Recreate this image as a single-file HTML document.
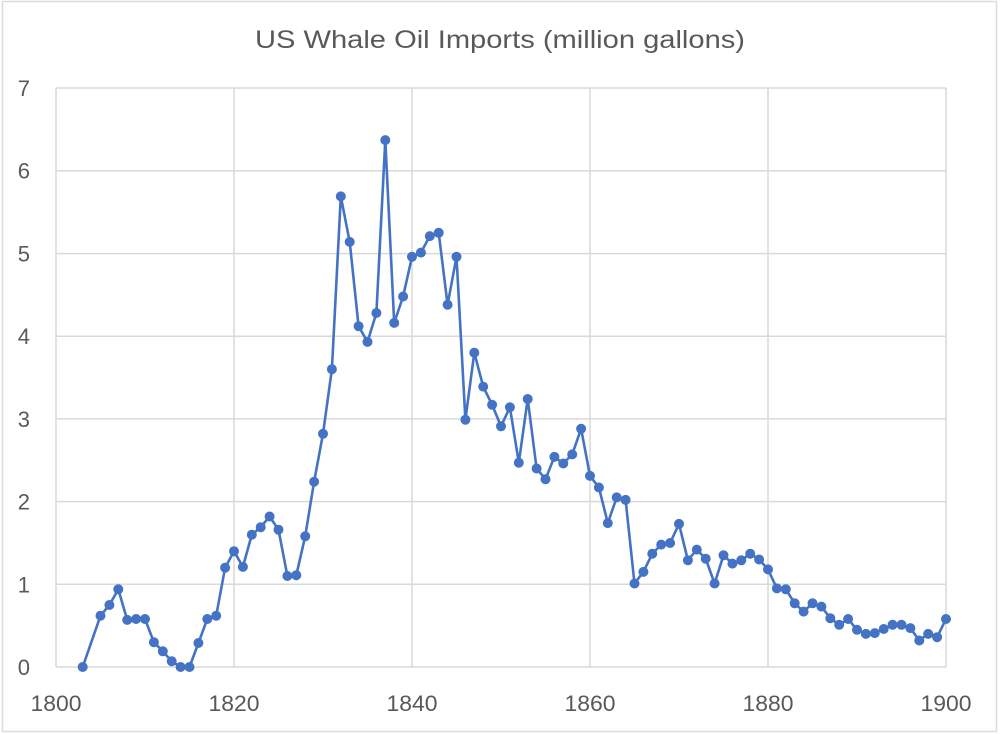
<!DOCTYPE html>
<html><head><meta charset="utf-8"><style>
html,body{margin:0;padding:0;background:#fff;}
svg{display:block;}
text{font-family:"Liberation Sans",Arial,sans-serif;fill:#595959;}
</style></head><body>
<svg width="1000" height="734" viewBox="0 0 1000 734" xmlns="http://www.w3.org/2000/svg">
<rect x="0" y="0" width="1000" height="734" fill="#fff"/>
<rect x="2.5" y="1.5" width="994" height="730" fill="none" stroke="#dcdcdc" stroke-width="1.5"/>
<text x="500" y="48" font-size="25" text-anchor="middle" textLength="490" lengthAdjust="spacingAndGlyphs">US Whale Oil Imports (million gallons)</text>
<g stroke="#d9d9d9" stroke-width="1.5" fill="none">
<path d="M56 667H946M56 584.3H946M56 501.6H946M56 418.9H946M56 336.2H946M56 253.6H946M56 170.7H946M56 88H946"/>
<path d="M56 88V667M234 88V667M412 88V667M590 88V667M768 88V667M946 88V667"/>
</g>
<g font-size="22" text-anchor="end">
<text x="30" y="675">0</text>
<text x="30" y="592.3">1</text>
<text x="30" y="509.6">2</text>
<text x="30" y="426.9">3</text>
<text x="30" y="344.2">4</text>
<text x="30" y="261.6">5</text>
<text x="30" y="178.7">6</text>
<text x="30" y="96">7</text>
</g>
<g font-size="22" text-anchor="middle">
<text x="56" y="711" textLength="51" lengthAdjust="spacingAndGlyphs">1800</text>
<text x="234" y="711" textLength="51" lengthAdjust="spacingAndGlyphs">1820</text>
<text x="412" y="711" textLength="51" lengthAdjust="spacingAndGlyphs">1840</text>
<text x="590" y="711" textLength="51" lengthAdjust="spacingAndGlyphs">1860</text>
<text x="768" y="711" textLength="51" lengthAdjust="spacingAndGlyphs">1880</text>
<text x="946" y="711" textLength="51" lengthAdjust="spacingAndGlyphs">1900</text>
</g>
<polyline fill="none" stroke="#4472C4" stroke-width="2.6" stroke-linejoin="round" points="82.7,667 100.5,615.7 109.4,605 118.3,589.3 127.2,619.9 136.1,619 145,619 153.9,642.2 162.8,651.3 171.7,661.2 180.6,667 189.5,667 198.4,643 207.3,619 216.2,615.7 225.1,567.7 234,551.2 242.9,566.9 251.8,534.7 260.7,527.2 269.6,516.5 278.5,529.7 287.4,576 296.3,575.2 305.2,536.3 314.1,481.7 323,433.8 331.9,369.2 340.8,196.4 349.7,241.9 358.6,326.2 367.5,341.9 376.4,313 385.3,140.1 394.2,322.9 403.1,296.5 412,256.8 420.9,252.6 429.8,236.1 438.7,232.8 447.6,304.7 456.5,256.8 465.4,419.7 474.3,352.7 483.2,386.6 492.1,404.8 501,426.3 509.9,407.3 518.8,462.7 527.7,399 536.6,468.5 545.5,479.2 554.4,456.9 563.3,463.5 572.2,454.4 581.1,428.8 590,475.9 598.9,487.5 607.8,523.1 616.7,497.4 625.6,499.9 634.5,583.5 643.4,571.9 652.3,553.7 661.2,544.6 670.1,543 679,523.9 687.9,560.3 696.8,549.6 705.7,558.7 714.6,583.5 723.5,555.3 732.4,563.6 741.3,560.3 750.2,553.7 759.1,559.5 768,569.4 776.9,588.4 785.8,589.3 794.7,603.3 803.6,611.6 812.5,603.3 821.4,606.6 830.3,618.2 839.2,624.8 848.1,619 857,629.8 865.9,633.9 874.8,633.1 883.7,629 892.6,624.8 901.5,624.8 910.4,628.1 919.3,640.5 928.2,633.9 937.1,637.2 946,619"/>
<path fill="none" stroke="#4472C4" stroke-width="10" stroke-linecap="round" d="M82.7 667h0M100.5 615.7h0M109.4 605h0M118.3 589.3h0M127.2 619.9h0M136.1 619h0M145 619h0M153.9 642.2h0M162.8 651.3h0M171.7 661.2h0M180.6 667h0M189.5 667h0M198.4 643h0M207.3 619h0M216.2 615.7h0M225.1 567.7h0M234 551.2h0M242.9 566.9h0M251.8 534.7h0M260.7 527.2h0M269.6 516.5h0M278.5 529.7h0M287.4 576h0M296.3 575.2h0M305.2 536.3h0M314.1 481.7h0M323 433.8h0M331.9 369.2h0M340.8 196.4h0M349.7 241.9h0M358.6 326.2h0M367.5 341.9h0M376.4 313h0M385.3 140.1h0M394.2 322.9h0M403.1 296.5h0M412 256.8h0M420.9 252.6h0M429.8 236.1h0M438.7 232.8h0M447.6 304.7h0M456.5 256.8h0M465.4 419.7h0M474.3 352.7h0M483.2 386.6h0M492.1 404.8h0M501 426.3h0M509.9 407.3h0M518.8 462.7h0M527.7 399h0M536.6 468.5h0M545.5 479.2h0M554.4 456.9h0M563.3 463.5h0M572.2 454.4h0M581.1 428.8h0M590 475.9h0M598.9 487.5h0M607.8 523.1h0M616.7 497.4h0M625.6 499.9h0M634.5 583.5h0M643.4 571.9h0M652.3 553.7h0M661.2 544.6h0M670.1 543h0M679 523.9h0M687.9 560.3h0M696.8 549.6h0M705.7 558.7h0M714.6 583.5h0M723.5 555.3h0M732.4 563.6h0M741.3 560.3h0M750.2 553.7h0M759.1 559.5h0M768 569.4h0M776.9 588.4h0M785.8 589.3h0M794.7 603.3h0M803.6 611.6h0M812.5 603.3h0M821.4 606.6h0M830.3 618.2h0M839.2 624.8h0M848.1 619h0M857 629.8h0M865.9 633.9h0M874.8 633.1h0M883.7 629h0M892.6 624.8h0M901.5 624.8h0M910.4 628.1h0M919.3 640.5h0M928.2 633.9h0M937.1 637.2h0M946 619h0"/>
</svg>
</body></html>
